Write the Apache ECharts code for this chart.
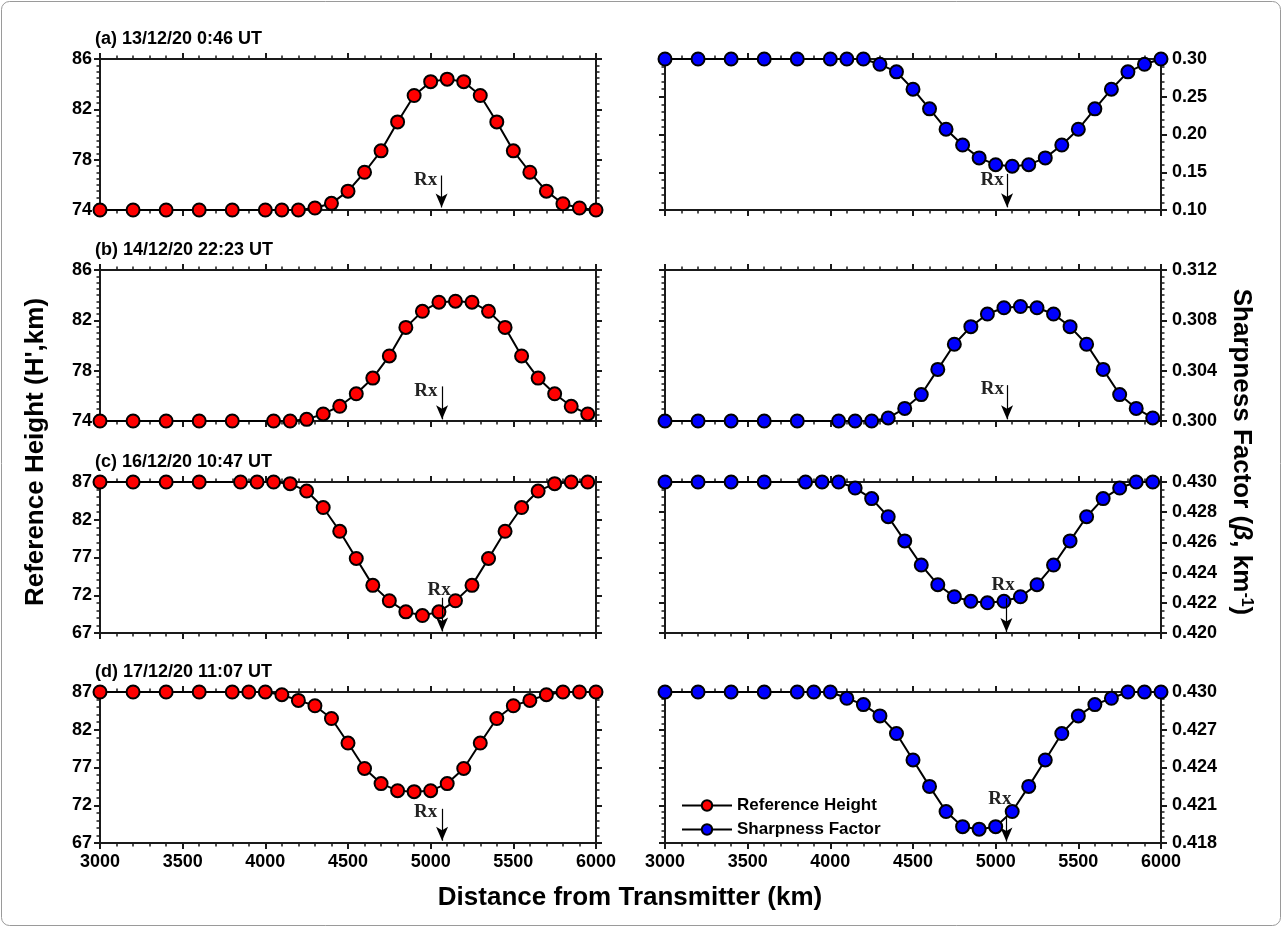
<!DOCTYPE html>
<html>
<head>
<meta charset="utf-8">
<script src="https://cdn.jsdelivr.net/npm/echarts@6/dist/echarts.min.js"></script>
<style>
html,body{margin:0;padding:0;background:#fff;}
#chart{width:1282px;height:927px;}
</style>
</head>
<body>
<div id="chart"></div>
<script>
// ---------------- DATA ----------------
const xTicks = [3000, 3500, 4000, 4500, 5000, 5500, 6000];

// (a) 13/12/20 0:46 UT
const xA = [3000,3200,3400,3600,3800,4000,4100,4200,4300,4400,4500,4600,4700,4800,4900,5000,5100,5200,5300,5400,5500,5600,5700,5800,5900,6000];
const hA = [74,74,74,74,74,74,74,74,74.16,74.53,75.5,77.0,78.7,81.0,83.1,84.2,84.4,84.2,83.1,81.0,78.7,77.0,75.5,74.5,74.16,74];
const sA = [0.30,0.30,0.30,0.30,0.30,0.30,0.30,0.30,0.293,0.283,0.260,0.234,0.207,0.186,0.169,0.160,0.158,0.160,0.169,0.186,0.207,0.234,0.260,0.283,0.293,0.30];

// (b) 14/12/20 22:23 UT
const xB = [3000,3200,3400,3600,3800,4050,4150,4250,4350,4450,4550,4650,4750,4850,4950,5050,5150,5250,5350,5450,5550,5650,5750,5850,5950];
const hB = [74,74,74,74,74,74,74,74.13,74.56,75.17,76.16,77.41,79.17,81.44,82.72,83.44,83.52,83.44,82.72,81.44,79.17,77.41,76.16,75.17,74.56];
const sB = [0.300,0.300,0.300,0.300,0.300,0.300,0.300,0.300,0.30024,0.3010,0.3021,0.3041,0.3061,0.3075,0.3085,0.3090,0.3091,0.3090,0.3085,0.3075,0.3061,0.3041,0.3021,0.3010,0.30024];

// (c) 16/12/20 10:47 UT
const xC = [3000,3200,3400,3600,3850,3950,4050,4150,4250,4350,4450,4550,4650,4750,4850,4950,5050,5150,5250,5350,5450,5550,5650,5750,5850,5950];
const hC = [87,87,87,87,87,87,87,86.78,85.8,83.62,80.47,76.87,73.31,71.27,69.8,69.31,69.8,71.27,73.31,76.87,80.47,83.62,85.8,86.78,87,87];
const sC = [0.430,0.430,0.430,0.430,0.430,0.430,0.430,0.4296,0.4289,0.4277,0.4261,0.4245,0.4232,0.4224,0.4221,0.4220,0.4221,0.4224,0.4232,0.4245,0.4261,0.4277,0.4289,0.4296,0.430,0.430];

// (d) 17/12/20 11:07 UT
const xD = [3000,3200,3400,3600,3800,3900,4000,4100,4200,4300,4400,4500,4600,4700,4800,4900,5000,5100,5200,5300,5400,5500,5600,5700,5800,5900,6000];
const hD = [87,87,87,87,87,87,87,86.64,85.89,85.18,83.49,80.24,76.87,74.87,73.93,73.8,73.93,74.87,76.87,80.24,83.49,85.18,85.89,86.64,87,87,87];
const sD = [0.430,0.430,0.430,0.430,0.430,0.430,0.430,0.4295,0.4290,0.4281,0.4267,0.4246,0.4225,0.4205,0.4193,0.4191,0.4193,0.4205,0.4225,0.4246,0.4267,0.4281,0.4290,0.4295,0.430,0.430,0.430];

// y tick labels
const leftTicksA = [74, 78, 82, 86];
const rightTicksA = [0.10, 0.15, 0.20, 0.25, 0.30];
const leftTicksB = [74, 78, 82, 86];
const rightTicksB = [0.300, 0.304, 0.308, 0.312];
const leftTicksC = [67, 72, 77, 82, 87];
const rightTicksC = [0.420, 0.422, 0.424, 0.426, 0.428, 0.430];
const leftTicksD = [67, 72, 77, 82, 87];
const rightTicksD = [0.418, 0.421, 0.424, 0.427, 0.430];

const panelLabels = ['(a) 13/12/20 0:46 UT', '(b) 14/12/20 22:23 UT', '(c) 16/12/20 10:47 UT', '(d) 17/12/20 11:07 UT'];

// Rx markers: [arrowX, arrowTop, arrowTip, textX, textY] for left and right panels
const rxLeft = [
  [5066, 76.74, 74.2, 4969, 76.4],
  [5069, 76.75, 74.13, 4971, 76.4],
  [5069, 71.67, 67.2, 5051, 72.7],
  [5069, 71.53, 67.3, 4969, 71.09]
];
const rxRight = [
  [5069, 0.1479, 0.1035, 4978, 0.139],
  [5069, 0.30285, 0.30013, 4980, 0.30253],
  [5065, 0.4223, 0.42007, 5045, 0.4232],
  [5065, 0.42032, 0.41811, 5025, 0.42152]
];

// ---------------- LAYOUT ----------------
const FONT = '"Liberation Sans", Arial, Helvetica, sans-serif';
const SERIF = '"Liberation Serif", "Times New Roman", serif';
const rowTop = [59, 270, 482, 692];
const gridH = 151;
const colLeft = [100, 665];
const gridW = 496;

const rowsX = [xA, xB, xC, xD];
const rowsH = [hA, hB, hC, hD];
const rowsS = [sA, sB, sC, sD];
const leftTicks = [leftTicksA, leftTicksB, leftTicksC, leftTicksD];
const rightTicks = [rightTicksA, rightTicksB, rightTicksC, rightTicksD];
const rightDec = [2, 3, 3, 3];
const leftMinor = [8, 8, 5, 5];
const rightMinor = [5, 8, 4, 6];

const AX = '#1a1a1a';
const grids = [], xAxes = [], yAxes = [], series = [];

function mkX(g, pos, showLabel) {
  return {
    gridIndex: g, type: 'value', position: pos,
    min: xTicks[0], max: xTicks[xTicks.length - 1], interval: xTicks[1] - xTicks[0],
    axisLine: { show: true, onZero: false, lineStyle: { color: AX, width: 2 } },
    axisTick: { show: true, inside: false, length: 6, lineStyle: { color: AX, width: 2 } },
    minorTick: { show: true, splitNumber: 5, length: 3.5, lineStyle: { color: AX, width: 1.5 } },
    axisLabel: { show: showLabel, margin: 10, fontSize: 18, fontWeight: 'bold', fontFamily: FONT, color: '#000',
      formatter: v => String(Math.round(v)) },
    splitLine: { show: false }
  };
}
function mkY(g, pos, ticks, showLabel, dec, minor) {
  const iv = +(ticks[1] - ticks[0]).toFixed(6);
  return {
    gridIndex: g, type: 'value', position: pos,
    min: ticks[0], max: ticks[ticks.length - 1], interval: iv,
    axisLine: { show: true, onZero: false, lineStyle: { color: AX, width: 2 } },
    axisTick: { show: true, inside: false, length: 6, lineStyle: { color: AX, width: 2 } },
    minorTick: { show: true, splitNumber: minor, length: 3.5, lineStyle: { color: AX, width: 1.5 } },
    axisLabel: { show: showLabel, margin: pos === 'left' ? 8 : 11, fontSize: 18, fontWeight: 'bold', fontFamily: FONT, color: '#000',
      formatter: v => dec === 0 ? String(Math.round(v)) : v.toFixed(dec) },
    splitLine: { show: false }
  };
}
function mkRx(r) {
  return {
    markLine: {
      silent: true, animation: false,
      symbol: ['none', 'arrow'], symbolSize: [9, 14],
      lineStyle: { color: '#000', width: 1.2, type: 'solid', opacity: 1 },
      itemStyle: { color: '#000' },
      label: { show: false },
      emphasis: { disabled: true },
      data: [[{ coord: [r[0], r[1]] }, { coord: [r[0], r[2]] }]]
    },
    markPoint: {
      silent: true, animation: false,
      symbol: 'circle', symbolSize: 2,
      itemStyle: { color: 'rgba(0,0,0,0)' },
      label: { show: true, formatter: 'Rx', position: 'inside', color: '#222', fontSize: 19, fontWeight: 'bold', fontFamily: SERIF },
      data: [{ coord: [r[3], r[4]] }]
    }
  };
}

for (let r = 0; r < 4; r++) {
  for (let c = 0; c < 2; c++) {
    const g = r * 2 + c;
    grids.push({ left: colLeft[c], top: rowTop[r], width: gridW, height: gridH, containLabel: false });
    xAxes.push(mkX(g, 'bottom', r === 3));
    xAxes.push(mkX(g, 'top', false));
    if (c === 0) {
      yAxes.push(mkY(g, 'left', leftTicks[r], true, 0, leftMinor[r]));
      yAxes.push(mkY(g, 'right', leftTicks[r], false, 0, leftMinor[r]));
    } else {
      yAxes.push(mkY(g, 'right', rightTicks[r], true, rightDec[r], rightMinor[r]));
      yAxes.push(mkY(g, 'left', rightTicks[r], false, rightDec[r], rightMinor[r]));
    }
    const xs = rowsX[r];
    const ys = c === 0 ? rowsH[r] : rowsS[r];
    const s = Object.assign({
      type: 'line',
      name: c === 0 ? 'Reference Height' : 'Sharpness Factor',
      xAxisIndex: 2 * g, yAxisIndex: 2 * g,
      data: xs.map((x, i) => [x, ys[i]]),
      symbol: 'circle', symbolSize: 13, showSymbol: true, clip: false,
      lineStyle: { color: '#000', width: 2 },
      itemStyle: { color: c === 0 ? '#ff0000' : '#0000ff', borderColor: '#000', borderWidth: 2 },
      z: 3, animation: false
    }, mkRx(c === 0 ? rxLeft[r] : rxRight[r]));
    series.push(s);
  }
}

const graphics = [
  { type: 'rect', shape: { x: 1.5, y: 1.5, width: 1279, height: 924, r: 8 }, style: { fill: 'none', stroke: '#9a9a9a', lineWidth: 1 }, silent: true },
  { type: 'text', x: 630, y: 898, style: { text: 'Distance from Transmitter (km)', font: 'bold 26px ' + FONT, fill: '#000', align: 'center', verticalAlign: 'middle', textAlign: 'center', textVerticalAlign: 'middle' } },
  { type: 'text', x: 36, y: 452, rotation: Math.PI / 2, style: { text: "Reference Height (H',km)", font: 'bold 26px ' + FONT, fill: '#000', align: 'center', verticalAlign: 'middle', textAlign: 'center', textVerticalAlign: 'middle' } },
  { type: 'text', x: 1241, y: 452, rotation: -Math.PI / 2, style: {
      text: '{a|Sharpness Factor (}{b|β}{a|, km}{c|-1}{a|)}',
      align: 'center', verticalAlign: 'middle', textAlign: 'center', textVerticalAlign: 'middle',
      rich: {
        a: { fontSize: 26, fontWeight: 'bold', fontFamily: FONT, fill: '#000', color: '#000' },
        b: { fontSize: 26, fontWeight: 'bold', fontStyle: 'italic', fontFamily: FONT, fill: '#000', color: '#000' },
        c: { fontSize: 16, fontWeight: 'bold', fontFamily: FONT, fill: '#000', color: '#000', verticalAlign: 'top' }
      }
    } }
];
for (let r = 0; r < 4; r++) {
  graphics.push({ type: 'text', x: 95, y: rowTop[r] - 20, style: { text: panelLabels[r], font: 'bold 18px ' + FONT, fill: '#000', align: 'left', verticalAlign: 'middle', textAlign: 'left', textVerticalAlign: 'middle' } });
}

const chart = echarts.init(document.getElementById('chart'), null, { renderer: 'canvas' });
chart.setOption({
  backgroundColor: '#fff',
  animation: false,
  grid: grids,
  xAxis: xAxes,
  yAxis: yAxes,
  series: series,
  legend: {
    show: true, orient: 'vertical', left: 676, top: 792,
    itemWidth: 50, itemHeight: 13, itemGap: 7, selectedMode: false,
    data: ['Reference Height', 'Sharpness Factor'],
    textStyle: { fontFamily: FONT, fontWeight: 'bold', fontSize: 17, color: '#000' }
  },
  graphic: graphics
});
</script>
</body>
</html>
